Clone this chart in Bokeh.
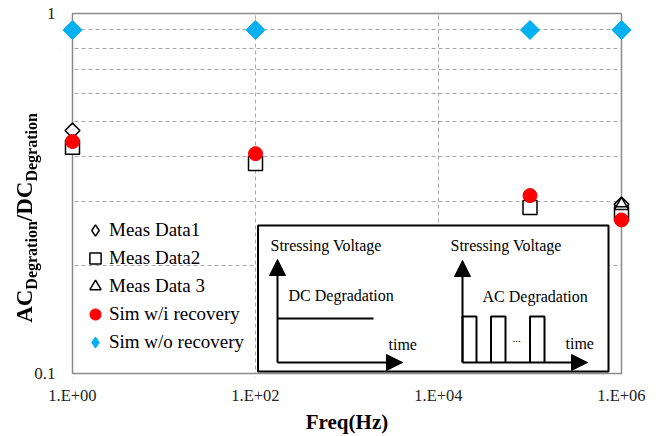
from math import pi
from bokeh.plotting import figure
from bokeh.layouts import column
from bokeh.models import (FixedTicker, Legend, LegendItem, Label, Arrow,
                          NormalHead, Range1d, Div)
from bokeh.embed import file_html
from bokeh.resources import INLINE

# ---------------- data ----------------
freq_meas1 = [1, 1e6]
meas_data1 = [0.473, 0.295]
freq_meas2 = [1, 100, 1e5, 1e6]
meas_data2 = [0.425, 0.383, 0.289, 0.278]
freq_meas3 = [1e6]
meas_data3 = [0.293]
freq_sim = [1, 100, 1e5, 1e6]
sim_with_recovery = [0.441, 0.408, 0.312, 0.267]
sim_without_recovery = [0.90, 0.90, 0.90, 0.90]

x_ticks = [1, 100, 1e4, 1e6]
x_tick_labels = ["1.E+00", "1.E+02", "1.E+04", "1.E+06"]
y_ticks = [0.1, 1]
y_tick_labels = ["0.1", "1"]
y_minor_ticks = [0.2, 0.3, 0.4, 0.5, 0.6, 0.7, 0.8, 0.9]

series_names = ["Meas Data1", "Meas Data2", "Meas Data 3",
                "Sim w/i recovery", "Sim w/o recovery"]
x_title = "Freq(Hz)"

FONT = "Liberation Serif"
GRID = "#a9a9a9"
FRAME = "#8a8a8a"

# visible axes box (pixels) and the small extra margin of the real frame so
# that markers sitting on the box edges are not clipped
FL, FR, FT, FB = 72, 621, 13, 373
MX, MY = 12, 3
XMIN, XMAX, YMIN, YMAX = 1.0, 1e6, 0.1, 1.0
DX = 6.0 / (FR - FL)      # decades per pixel (x)
DY = 1.0 / (FB - FT)      # decades per pixel (y)


def px_x(px):
    return 10 ** ((px - FL) * DX)


def px_y(py):
    return 10 ** (-(py - FT) * DY)


x_range = Range1d(px_x(FL - MX), px_x(FR + MX))
y_range = Range1d(px_y(FB + MY), px_y(FT - MY))

p = figure(width=661, height=436, x_axis_type="log", y_axis_type="log",
           x_range=x_range, y_range=y_range,
           output_backend="svg", toolbar_location=None,
           min_border_left=FL - MX, min_border_right=661 - FR - MX,
           min_border_top=FT - MY, min_border_bottom=436 - FB - MY)

p.background_fill_color = "white"
p.border_fill_color = "white"
p.outline_line_color = None

p.xaxis.ticker = FixedTicker(ticks=x_ticks, minor_ticks=[])
p.yaxis.ticker = FixedTicker(ticks=y_ticks, minor_ticks=y_minor_ticks)
p.xaxis.major_label_overrides = {t: l for t, l in zip(x_ticks, x_tick_labels)}
p.yaxis.major_label_overrides = {t: l for t, l in zip(y_ticks, y_tick_labels)}

for ax in (p.xaxis, p.yaxis):
    ax.axis_line_color = None
    ax.major_tick_line_color = None
    ax.minor_tick_line_color = None
    ax.major_tick_out = 0
    ax.minor_tick_out = 0
    ax.major_label_text_font = FONT
    ax.major_label_text_color = "#222222"

p.xaxis.major_label_text_font_size = "16.5px"
p.xaxis.major_label_standoff = 9
p.yaxis.major_label_text_font_size = "17px"
p.yaxis.major_label_standoff = 5

p.xaxis.axis_label = x_title
p.xaxis.axis_label_text_font = FONT
p.xaxis.axis_label_text_font_style = "bold"
p.xaxis.axis_label_text_font_size = "21px"
p.xaxis.axis_label_text_color = "black"
p.xaxis.axis_label_standoff = 2

p.xgrid.grid_line_color = GRID
p.xgrid.grid_line_dash = "4 3"
p.ygrid.grid_line_color = None
p.ygrid.minor_grid_line_color = GRID
p.ygrid.minor_grid_line_dash = "4 3"

# white strips hiding grid outside the axes box, then the box itself
x0, x1 = x_range.start, x_range.end
y0, y1 = y_range.start, y_range.end
p.quad(left=[x0, XMAX, x0, x0], right=[XMIN, x1, x1, x1],
       bottom=[y0, y0, YMAX, y0], top=[y1, y1, y1, YMIN],
       fill_color="white", line_color=None)
p.quad(left=[XMIN], right=[XMAX], bottom=[YMIN], top=[YMAX],
       fill_color=None, line_color=FRAME, line_width=1.5)

# ---------------- schematic inset ----------------
p.quad(left=[px_x(257.5)], right=[px_x(608)], top=[px_y(225)], bottom=[px_y(371)],
       fill_color="white", line_color="black", line_width=2)

pulse_x = [[462, 476], [490.5, 505], [529.5, 544]]
xs = [[px_x(277), px_x(373)]]
ys = [[px_y(318), px_y(318)]]
for a, b in pulse_x:
    xs.append([px_x(a), px_x(a), px_x(b), px_x(b)])
    ys.append([px_y(362), px_y(316), px_y(316), px_y(362)])
p.multi_line(xs=xs, ys=ys, line_color="black", line_width=2)

for (ax0, ay0, ax1, ay1) in [(277, 362, 277, 259), (277, 362, 402, 362),
                             (462, 362, 462, 260), (462, 362, 587, 362)]:
    p.add_layout(Arrow(end=NormalHead(size=16, fill_color="black", line_color="black"),
                       x_start=px_x(ax0), y_start=px_y(ay0),
                       x_end=px_x(ax1), y_end=px_y(ay1),
                       line_color="black", line_width=2))

for txt, x, y, size in [("Stressing Voltage", 270, 245, "16px"),
                        ("Stressing Voltage", 450, 245, "16px"),
                        ("DC Degradation", 288, 295, "16px"),
                        ("AC Degradation", 482, 296, "16px"),
                        ("time", 388, 344, "16px"),
                        ("time", 565, 343, "16px"),
                        ("...", 512, 338, "11px")]:
    p.add_layout(Label(x=px_x(x), y=px_y(y), text=txt, text_font=FONT,
                       text_font_size=size, text_baseline="middle",
                       text_align="left", text_color="black"))

# ---------------- data series ----------------
r1 = p.scatter(freq_meas1, meas_data1, marker="square", angle=pi / 4, size=10.5,
               fill_color="white", line_color="black", line_width=1.5)
r2 = p.scatter(freq_meas2, meas_data2, marker="square", size=14,
               fill_color="white", line_color="black", line_width=1.5)
r3 = p.scatter(freq_meas3, meas_data3, marker="triangle", size=14,
               fill_color=None, line_color="black", line_width=1.5)
r4 = p.scatter(freq_sim, sim_with_recovery, marker="circle", size=14,
               fill_color="#ff0000", line_color="#ff0000")
r5 = p.scatter(freq_sim, sim_without_recovery, marker="square", angle=pi / 4,
               size=13.5, fill_color="#00b0f0", line_color="#00b0f0")

# legend swatches (legend glyphs do not rotate, so use diamond markers there)
l1 = p.scatter(freq_meas1[:1], meas_data1[:1], marker="diamond", visible=False,
               fill_color="white", line_color="black", line_width=1.5)
l5 = p.scatter(freq_sim[:1], sim_without_recovery[:1], marker="diamond",
               visible=False, fill_color="#00b0f0", line_color="#00b0f0")

legend = Legend(items=[LegendItem(label=n, renderers=[r])
                       for n, r in zip(series_names, [l1, r2, r3, r4, l5])],
                location=(95 - 14 - (FL - MX), 373 - 356 + MY),
                glyph_width=28, glyph_height=28,
                label_height=28, spacing=0, padding=0, margin=0,
                label_standoff=0, border_line_color=None,
                background_fill_alpha=0, label_text_font=FONT,
                label_text_font_size="19px", label_text_color="black")
p.add_layout(legend)

# ---------------- y-axis title with subscripts (rotated HTML text) ----------------
sub = "font-size:16px;position:relative;top:5px;"
y_title_html = (
    '<div style="position:fixed;left:0;top:0;width:436px;height:50px;'
    'line-height:50px;text-align:center;white-space:nowrap;'
    "font-family:'Liberation Serif';font-weight:bold;font-size:23px;color:#000;"
    'transform-origin:0 0;transform:translate(0px,436px) rotate(-90deg);'
    'pointer-events:none;">'
    f'AC<span style="{sub}">Degration</span>/DC<span style="{sub}">Degration</span>'
    '</div>'
)
y_title = Div(text=y_title_html, width=10, height=10)

open("out.html", "w").write(file_html(column(p, y_title), INLINE))
